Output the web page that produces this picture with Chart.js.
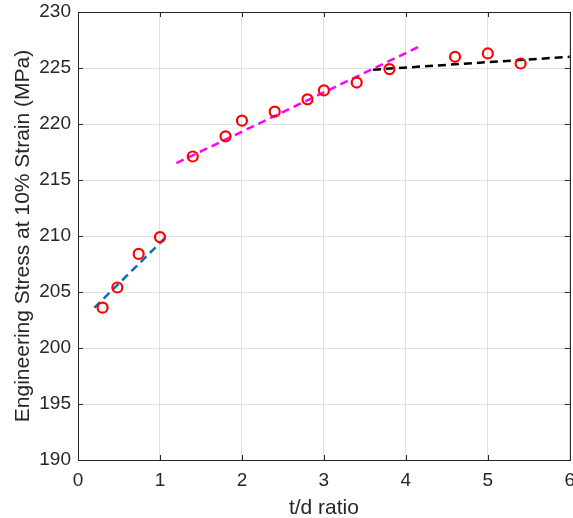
<!DOCTYPE html>
<html>
<head>
<meta charset="utf-8">
<script src="https://cdn.jsdelivr.net/npm/chart.js@4"></script>
<style>
  html, body { margin: 0; padding: 0; background: #fff; overflow: hidden; }
  /* slightly wider than the window so the last tick label is cut like the original */
  #wrap { width: 577px; height: 518px; }
</style>
</head>
<body>
<div id="wrap"><canvas id="stressChart"></canvas></div>
<script>
// measured points (t/d ratio vs stress)
const ratioValues = [0.3, 0.48, 0.74, 1.0, 1.4, 1.8, 2.0, 2.4, 2.8, 3.0, 3.4, 3.8, 4.6, 5.0, 5.4];
const stressValues = [203.6, 205.4, 208.4, 209.9, 217.1, 218.9, 220.3, 221.1, 222.2, 223.0, 223.7, 224.9, 226.0, 226.3, 225.4];

// fitted trend lines (end points)
const fitBlueX = [0.2, 1.1];
const fitBlueY = [203.6, 210.1];
const fitMagentaX = [1.2, 4.16];
const fitMagentaY = [216.5, 226.9];
const fitBlackX = [3.6, 6.0];
const fitBlackY = [224.85, 226.0];

const xTicks = [0, 1, 2, 3, 4, 5, 6];
const yTicks = [190, 195, 200, 205, 210, 215, 220, 225, 230];

const toPoints = (xs, ys) => xs.map((x, i) => ({ x, y: ys[i] }));

const axisColor = '#262626';
const fontFamily = '"Liberation Sans", Arial, sans-serif';

function fitLine(xs, ys, color) {
  return {
    data: toPoints(xs, ys),
    showLine: true,
    borderColor: color,
    backgroundColor: color,
    borderWidth: 2.5,
    borderDash: [8, 5],
    pointRadius: 0,
    fill: false
  };
}

// MATLAB style box with inward ticks
const boxPlugin = {
  id: 'boxPlugin',
  afterDraw(chart) {
    const { ctx, chartArea: a, scales } = chart;
    ctx.save();
    ctx.strokeStyle = axisColor;
    ctx.lineWidth = 1;
    ctx.strokeRect(Math.round(a.left) + 0.5, Math.round(a.top) + 0.5,
      Math.round(a.right - a.left), Math.round(a.bottom - a.top));
    ctx.beginPath();
    xTicks.forEach(v => {
      const px = Math.round(scales.x.getPixelForValue(v)) + 0.5;
      ctx.moveTo(px, a.bottom); ctx.lineTo(px, a.bottom - 5);
      ctx.moveTo(px, a.top); ctx.lineTo(px, a.top + 5);
    });
    yTicks.forEach(v => {
      const py = Math.round(scales.y.getPixelForValue(v)) + 0.5;
      ctx.moveTo(a.left, py); ctx.lineTo(a.left + 5, py);
      ctx.moveTo(a.right, py); ctx.lineTo(a.right - 5, py);
    });
    ctx.stroke();
    ctx.restore();
  }
};

new Chart(document.getElementById('stressChart').getContext('2d'), {
  type: 'scatter',
  data: {
    datasets: [
      {
        data: toPoints(ratioValues, stressValues),
        borderColor: '#ff0000',
        backgroundColor: 'rgba(0,0,0,0)',
        borderWidth: 2.2,
        pointRadius: 5,
        pointHoverRadius: 5
      },
      fitLine(fitBlueX, fitBlueY, '#0072BD'),
      fitLine(fitMagentaX, fitMagentaY, '#ff00ff'),
      fitLine(fitBlackX, fitBlackY, '#000000')
    ]
  },
  options: {
    responsive: true,
    maintainAspectRatio: false,
    animation: false,
    layout: { padding: { top: 12, right: 0, left: 0, bottom: 0 } },
    plugins: {
      legend: { display: false },
      tooltip: { enabled: false }
    },
    scales: {
      x: {
        type: 'linear',
        min: 0,
        max: 6,
        afterFit: s => { s.height = 58; s.paddingLeft = 0; s.paddingRight = 0; },
        afterBuildTicks: s => { s.ticks = xTicks.map(v => ({ value: v })); },
        border: { display: false },
        grid: { color: '#e0e0e0', drawTicks: false },
        ticks: { color: axisColor, padding: 9, font: { family: fontFamily, size: 19 } },
        title: {
          display: true,
          text: 't/d ratio',
          color: axisColor,
          padding: { top: 0, bottom: -3 },
          font: { family: fontFamily, size: 21 }
        }
      },
      y: {
        min: 190,
        max: 230,
        afterFit: s => { s.width = 78; s.paddingTop = 0; s.paddingBottom = 0; },
        afterBuildTicks: s => { s.ticks = yTicks.map(v => ({ value: v })); },
        border: { display: false },
        grid: { color: '#e0e0e0', drawTicks: false },
        ticks: { color: axisColor, padding: 7, font: { family: fontFamily, size: 19 } },
        title: {
          display: true,
          text: 'Engineering Stress at 10% Strain (MPa)',
          color: axisColor,
          padding: { top: 11, bottom: 0 },
          font: { family: fontFamily, size: 21 }
        }
      }
    }
  },
  plugins: [boxPlugin]
});
</script>
</body>
</html>
